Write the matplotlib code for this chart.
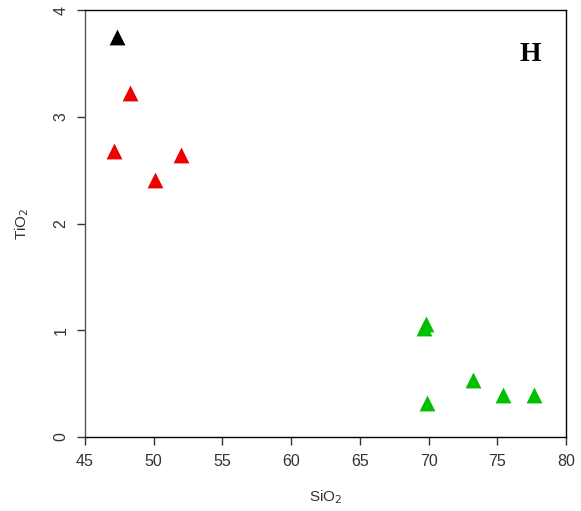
import matplotlib
matplotlib.use("Agg")
import matplotlib.pyplot as plt

plt.rcParams['font.family'] = ['Liberation Sans', 'DejaVu Sans']

# data
black_sio2 = [47.3]
black_tio2 = [3.75]
red_sio2 = [48.3, 47.1, 50.1, 52.0]
red_tio2 = [3.22, 2.68, 2.41, 2.64]
green_sio2 = [69.7, 69.8, 69.9, 73.2, 75.4, 77.7]
green_tio2 = [1.02, 1.06, 0.32, 0.53, 0.39, 0.39]

xticks = [45, 50, 55, 60, 65, 70, 75, 80]
yticks = [0, 1, 2, 3, 4]

fig = plt.figure(figsize=(5.81, 5.11), dpi=100)
ax = fig.add_axes([0.1463, 0.1448, 0.8279, 0.8356])

ax.scatter(black_sio2, black_tio2, marker='^', s=130, color='black', linewidths=0)
ax.scatter(red_sio2, red_tio2, marker='^', s=130, color='#ee0000', linewidths=0)
ax.scatter(green_sio2, green_tio2, marker='^', s=130, color='#00c000', linewidths=0)

ax.set_xlim(45, 80)
ax.set_ylim(0, 4)
ax.set_xticks(xticks)
ax.set_yticks(yticks)
ax.tick_params(direction='out', length=6, width=1, labelsize=11.5, colors='#333333', pad=6)
for lab in ax.get_yticklabels():
    lab.set_rotation(90)
    lab.set_va('center')
for sp in ax.spines.values():
    sp.set_linewidth(1)
    sp.set_color('black')
ax.spines['left'].set_color('#555555')

ax.set_xlabel('SiO$_2$', fontsize=11, labelpad=14, color='#333333')
ax.set_ylabel('TiO$_2$', fontsize=11, labelpad=16, color='#333333')

ax.text(0.925, 0.895, 'H', transform=ax.transAxes, fontsize=20, fontweight='bold',
        family='Liberation Serif', ha='center', va='center')

fig.savefig('out.png', dpi=100)
